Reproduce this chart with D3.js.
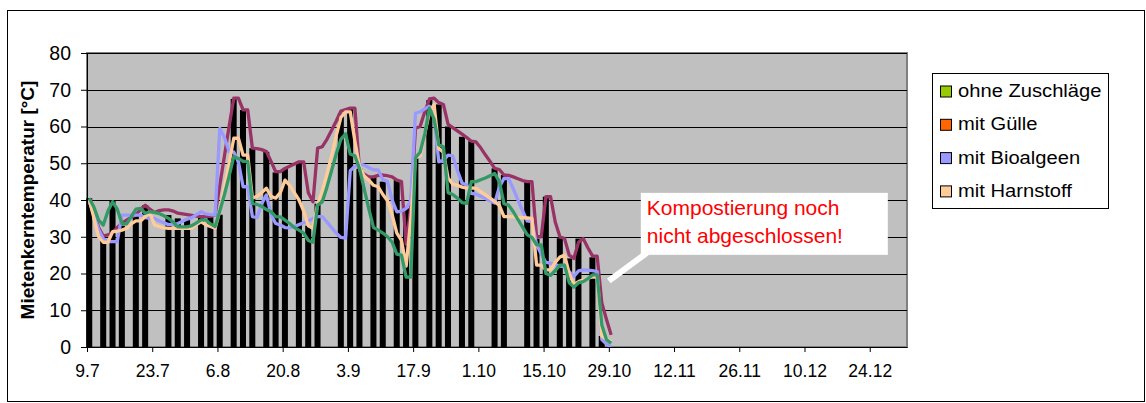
<!DOCTYPE html>
<html>
<head>
<meta charset="utf-8">
<script src="https://cdn.jsdelivr.net/npm/d3@7"></script>
<style>
  body { margin: 0; background: #fff; }
  text { font-family: "Liberation Sans", Arial, sans-serif; }
</style>
</head>
<body>
<svg id="chart" width="1146" height="403"></svg>
<script>
// series names / colours (legend squares use the bar fills, lines use their own colours)
const seriesNames = ['ohne Zuschläge', 'mit Gülle', 'mit Bioalgeen', 'mit Harnstoff'];
const legendColors = ['#99CC00', '#FF6600', '#9999FF', '#FFCC99'];
const lineColors = ['#339966', '#993366', '#9999FF', '#FFCC99'];

// daily readings starting on 9.7.
const lineStart = '2004-07-09';
const ohneZuschlaege = [40.5, 38, 34.5, 33.2, 37, 39.5, 37.5, 33.6, 33.5, 35.5, 37.5, 37.7, 36.4, 36.8, 36.6, 36.3,
  35.7, 35, 34, 32.7, 32.7, 32.7, 33, 33.8, 34.6, 34.6, 33.5, 32.8, 37, 41.5, 46.5, 51.8, 51.3, 50.5, 50.5, 39.1,
  38.8, 38.3, 37.4, 36.8, 35.5, 35.4, 34.5, 33.6, 32.5, 31.8, 31, 29, 28.5, 38.6, 39.5, 43.5, 48, 52.5, 56.5, 58,
  52.5, 52, 48.5, 43, 37.5, 32.5, 31.8, 31, 30, 28.5, 25.3, 25, 19, 19, 51.5, 53, 58, 65, 62, 55, 54.5, 42, 41.5,
  40.5, 39.3, 39.1, 45, 45, 45.5, 46, 46.6, 47.2, 45, 39, 38.6, 36.8, 34.7, 32.6, 30.5, 29.8, 27.8, 27.8, 20, 19.5,
  20.8, 22.3, 22.3, 17.5, 16.3, 17.5, 17.8, 18.6, 19.6, 19.6, 6, 2, 1];
const mitGuelle = [40, 36.5, 32.5, 30.2, 30.5, 31.2, 32.5, 33.7, 34.5, 35.3, 35.9, 37.5, 38.6, 37.5, 36.6, 37.1,
  37.3, 37.3, 37, 36.4, 36.2, 36, 35.8, 35.6, 35.5, 35.5, 35.6, 35.9, 44, 52, 60, 67.7, 67.7, 64.5, 64.5, 54.1,
  54, 53.7, 53.2, 50.5, 47.7, 47.7, 48.6, 49.2, 49.8, 50.4, 50.4, 42, 39.5, 54.1, 54.5, 56.5, 59, 61.5, 64.2, 64.6,
  65, 65, 48, 47, 46.3, 46.3, 46.7, 46.8, 46.6, 46.3, 45.4, 45, 28, 38, 59.5, 60, 64, 67.5, 67.7, 66.5, 66, 60.6,
  59.7, 58.8, 57.9, 57, 56, 55.8, 54.2, 52.3, 50.5, 48.6, 48.3, 46.8, 46.7, 46.3, 45.8, 45.3, 45, 45, 30, 30, 40.9,
  40.9, 34, 30, 29.5, 25, 24.1, 28.5, 29.5, 27, 24.8, 24.7, 12, 7.5, 3.3];
const mitBioalgeen = [39.5, 36, 32, 29.5, 28.7, 28.7, 28.7, 35.9, 35.9, 35.9, 35.9, 35.9, 35.2, 35, 35, 34.3,
  33.8, 33.3, 33.4, 33.6, 34.2, 34.8, 35.2, 36, 36.8, 36.2, 36, 35.9, 59.5, 57, 53.1, 53.1, 50.4, 43.6, 43.6, 35.5,
  35.2, 39, 41.4, 36, 33.6, 33.2, 32.5, 32.4, 32.8, 33.3, 33.8, 34.3, 35, 35.5, 35.5, 34, 32.5, 31, 29.8, 29.6,
  48, 49.2, 49.8, 49.5, 48.8, 48.2, 48.2, 45.5, 45, 40, 36.8, 37, 37.7, 40, 63.6, 64, 64.8, 65.5, 63, 50.4, 50.8,
  52.2, 52, 48, 44.6, 44.1, 41.8, 41.6, 41, 40.4, 39.8, 39.2, 43.5, 45.9, 45.8, 43, 40, 37, 34.3, 34.1, 27.8, 25.3,
  23, 22.8, 22.4, 22, 21.9, 20.5, 19.2, 20.7, 21, 20.9, 20.8, 20.5, 2, 0.8, 0];
const mitHarnstoff = [40, 35, 30, 28.5, 28.5, 31.4, 31.5, 31.8, 32.3, 33.5, 34.3, 34.3, 35.5, 36.4, 33.2, 32.8,
  32.4, 32.3, 32.3, 32.3, 32.3, 32.3, 32.3, 33.3, 34.1, 33.2, 32.8, 32.3, 37, 43.5, 50, 56.8, 56.8, 52.2, 52.2, 40.5,
  41, 42, 43.2, 41, 40.5, 42, 45.4, 44, 42, 40, 37, 33, 32.3, 38.8, 42.5, 47, 52, 57.5, 62.5, 64, 64, 56, 49, 46.5,
  45.4, 44, 43.6, 41.5, 39.8, 36, 31, 29, 22, 35, 51.5, 52, 58, 64, 66, 54, 53, 46, 44.3, 44, 43.5, 43.2, 43.3,
  43.2, 42.3, 41.4, 40.5, 39.6, 38.5, 35.5, 35.5, 35.4, 35.3, 35.2, 35.1, 35, 22.3, 22.3, 21, 21, 23, 24.5, 25, 20,
  17, 17.8, 18.3, 18.7, 19.1, 19, 3, 2, 1.5];

// black bars: days after 9.7. and height
const barDays = [0, 3, 5, 7, 10, 12, 17, 19, 21, 24, 26, 28, 31, 33, 35, 38, 40, 42, 45, 47, 49, 54, 56, 58, 61,
  63, 66, 68, 70, 73, 75, 77, 80, 82, 87, 89, 94, 96, 98, 101, 103, 105, 108, 110];
const barValues = [40.5, 29.5, 40, 33, 36.4, 38.6, 35.9, 35, 34.6, 35.5, 35.3, 36, 67.5, 64.5, 54.1, 53.1, 47.5,
  48.5, 50.2, 33, 39, 63.5, 65, 48.5, 46.3, 45, 45.4, 37.7, 52, 67.2, 66, 60, 57.2, 56, 48.6, 46.8, 45, 29.5, 40.9,
  29.6, 24.1, 29.5, 24.4, 3];

const xTickLabels = ['9.7', '23.7', '6.8', '20.8', '3.9', '17.9', '1.10', '15.10', '29.10', '12.11', '26.11', '10.12', '24.12'];
const xEnd = '1.1.2005';
const yTicks = [0, 10, 20, 30, 40, 50, 60, 70, 80];
const yTitle = 'Mietenkerntemperatur [°C]';
const noteLines = ['Kompostierung noch', 'nicht abgeschlossen!'];

const svg = d3.select('#chart');
const plot = { left: 87, right: 907, top: 53, bottom: 347 };

const parseDay = d3.utcParse('%d.%m.%Y');
const start = d3.utcParse('%Y-%m-%d')(lineStart);
const tickDates = xTickLabels.map((t) => parseDay(t + '.2004'));

const x = d3.scaleUtc().domain([start, parseDay(xEnd)]).range([plot.left, plot.right]);
const y = d3.scaleLinear().domain([0, 80]).range([plot.bottom, plot.top]);

// outer frame
svg.append('rect')
  .attr('x', 7.5).attr('y', 10.5).attr('width', 1137).attr('height', 391)
  .attr('fill', '#fff').attr('stroke', '#000').attr('stroke-width', 1);

// plot area
svg.append('rect')
  .attr('x', plot.left).attr('y', plot.top)
  .attr('width', plot.right - plot.left).attr('height', plot.bottom - plot.top)
  .attr('fill', '#C0C0C0').attr('stroke', '#808080').attr('stroke-width', 2);

svg.append('g')
  .selectAll('line')
  .data(yTicks.filter((d) => d > 0))
  .enter()
  .append('line')
  .attr('x1', plot.left).attr('x2', plot.right)
  .attr('y1', (d) => Math.round(y(d)) + 0.5).attr('y2', (d) => Math.round(y(d)) + 0.5)
  .attr('stroke', '#000').attr('stroke-width', 1);

// noon of a day after start
const dayX = (d, shift) => x(d3.utcHour.offset(d3.utcDay.offset(start, d), 12 + (shift || 0)));

// bars
svg.append('g')
  .selectAll('rect')
  .data(barDays.map((d, i) => ({ day: d, value: barValues[i] })))
  .enter()
  .append('rect')
  .attr('x', (d) => dayX(d.day, -15.5))
  .attr('width', (d) => dayX(d.day, 15.5) - dayX(d.day, -15.5))
  .attr('y', (d) => y(d.value))
  .attr('height', (d) => y(0) - y(d.value))
  .attr('fill', '#000');

// lines
const series = [mitGuelle, mitBioalgeen, mitHarnstoff, ohneZuschlaege];
const seriesColors = [lineColors[1], lineColors[2], lineColors[3], lineColors[0]];
const line = d3.line()
  .x((d, i) => dayX(i))
  .y((d) => y(d));

svg.append('g')
  .selectAll('path')
  .data(series)
  .enter()
  .append('path')
  .attr('d', line)
  .attr('fill', 'none')
  .attr('stroke', (d, i) => seriesColors[i])
  .attr('stroke-width', 3.3)
  .attr('stroke-linejoin', 'round');

// axes
const yAxis = svg.append('g')
  .attr('transform', 'translate(' + plot.left + ',0)')
  .call(d3.axisLeft(y).tickValues(yTicks).tickSize(6).tickSizeOuter(0).tickPadding(10));
yAxis.selectAll('text').style('font-size', '19.5px').attr('fill', '#000');

const xAxis = svg.append('g')
  .attr('transform', 'translate(0,' + plot.bottom + ')')
  .call(d3.axisBottom(x).tickValues(tickDates).tickFormat(d3.utcFormat('%-d.%-m'))
    .tickSize(5).tickSizeOuter(0).tickPadding(13));
xAxis.selectAll('text').style('font-size', '17.5px').attr('fill', '#000');
[yAxis, xAxis].forEach((g) => {
  g.select('.domain').attr('stroke', '#000');
  g.selectAll('.tick line').attr('stroke', '#000');
});

// y title
svg.append('text')
  .attr('transform', 'translate(33.5,' + (plot.top + plot.bottom) / 2 + ') rotate(-90)')
  .attr('text-anchor', 'middle')
  .style('font-size', '19px')
  .style('font-weight', 'bold')
  .text(yTitle);

// legend
const legend = svg.append('g').attr('transform', 'translate(932.5,73.5)');
legend.append('rect')
  .attr('width', 176).attr('height', 135)
  .attr('fill', '#fff').attr('stroke', '#000');
const item = legend.selectAll('g.item')
  .data(seriesNames)
  .enter()
  .append('g')
  .attr('class', 'item')
  .attr('transform', (d, i) => 'translate(0,' + (18 + i * 33.3) + ')');
item.append('rect')
  .attr('x', 8).attr('y', -5.5).attr('width', 11).attr('height', 11)
  .attr('fill', (d, i) => legendColors[i]).attr('stroke', '#000');
item.append('text')
  .attr('transform', 'translate(25.5,5.5) scale(1.09,1)')
  .style('font-size', '18.5px')
  .text((d) => d);

// callout
const tipX = x(parseDay('29.10.2004'));
const tipY = y(18);
const note = svg.append('g');
note.append('line')
  .attr('x1', tipX).attr('y1', tipY)
  .attr('x2', tipX + 38).attr('y2', tipY - 28)
  .attr('stroke', '#fff').attr('stroke-width', 6);
note.append('rect')
  .attr('x', tipX + 32).attr('y', tipY - 88)
  .attr('width', 247).attr('height', 62)
  .attr('fill', '#fff');
note.selectAll('text')
  .data(noteLines)
  .enter()
  .append('text')
  .attr('x', tipX + 38)
  .attr('y', (d, i) => tipY - 66 + i * 28.5)
  .attr('fill', '#FF0000')
  .style('font-size', '21px')
  .text((d) => d);
</script>
</body>
</html>
